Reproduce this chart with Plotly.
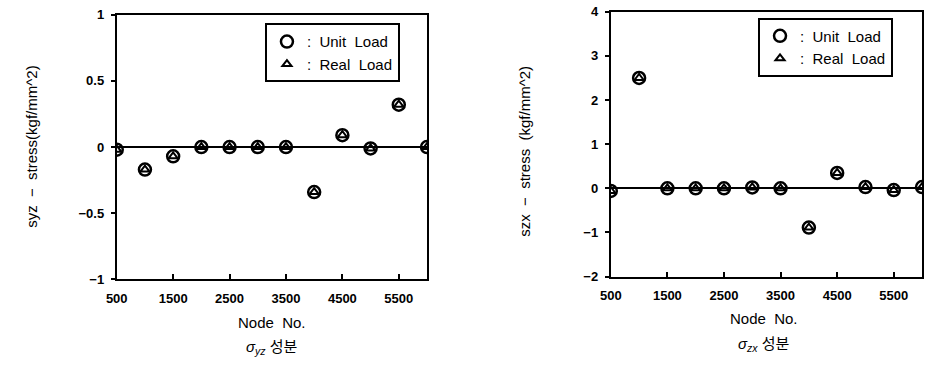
import plotly.graph_objects as go

nodes = [500, 1000, 1500, 2000, 2500, 3000, 3500, 4000, 4500, 5000, 5500, 6000]
syz_unit = [-0.02, -0.17, -0.07, 0.0, 0.0, 0.0, 0.0, -0.34, 0.09, -0.01, 0.32, 0.0]
syz_real = [-0.02, -0.17, -0.07, 0.0, 0.0, 0.0, 0.0, -0.34, 0.09, -0.01, 0.32, 0.0]
szx_unit = [-0.06, 2.5, 0.0, 0.0, 0.0, 0.02, 0.0, -0.89, 0.35, 0.03, -0.04, 0.03]
szx_real = [-0.06, 2.5, 0.0, 0.0, 0.0, 0.02, 0.0, -0.89, 0.35, 0.03, -0.04, 0.03]
x_ticks = [500, 1500, 2500, 3500, 4500, 5500]
y1_ticks = [-1, -0.5, 0, 0.5, 1]
y1_labels = ["−1", "−0.5", "0", "0.5", "1"]
y2_ticks = [-2, -1, 0, 1, 2, 3, 4]
y2_labels = ["−2", "−1", "0", "1", "2", "3", "4"]

FONT = "Liberation Sans"
fig = go.Figure()

def add_pair(unit, real, xa, ya, legend):
    fig.add_trace(go.Scatter(x=nodes, y=unit, mode="markers", xaxis=xa, yaxis=ya,
                             name=":  Unit  Load", legend=legend,
                             marker=dict(symbol="circle-open", size=12, color="black",
                                         line=dict(width=2.5, color="black"))))
    fig.add_trace(go.Scatter(x=nodes, y=real, mode="markers", xaxis=xa, yaxis=ya,
                             name=":  Real  Load", legend=legend,
                             marker=dict(symbol="triangle-up-open", size=8, color="black",
                                         line=dict(width=2, color="black"))))

add_pair(syz_unit, syz_real, "x", "y", "legend")
add_pair(szx_unit, szx_real, "x2", "y2", "legend2")

tickfont = dict(family=FONT, size=13, color="black", weight="bold")
xaxis_common = dict(showline=True, linecolor="black", linewidth=2, mirror=True,
                    showgrid=False, ticks="inside", ticklen=5, tickcolor="black",
                    tickwidth=1.5, ticklabelstandoff=6, tickfont=tickfont)
yaxis_common = dict(showline=True, linecolor="black", linewidth=2, mirror=True,
                    showgrid=False, ticks="outside", ticklen=4, tickcolor="black",
                    tickwidth=1.5, ticklabelstandoff=4, tickfont=tickfont)

legend_common = dict(xanchor="left", yanchor="top", bordercolor="black", borderwidth=2,
                     bgcolor="white", font=dict(family=FONT, size=15, color="black"),
                     tracegroupgap=0, itemwidth=30)

fig.update_layout(
    width=926, height=370, margin=dict(l=0, r=0, t=0, b=0),
    paper_bgcolor="white", plot_bgcolor="white",
    font=dict(family=FONT, color="black"),
    xaxis=dict(domain=[107/926, 421/926], range=[500, 6000], tickvals=x_ticks,
               zeroline=False, anchor="y", **xaxis_common),
    yaxis=dict(domain=[1-284/370, 1-8/370], range=[-1, 1], tickvals=y1_ticks,
               ticktext=y1_labels, zeroline=True, zerolinecolor="black",
               zerolinewidth=1.5, anchor="x", **yaxis_common),
    xaxis2=dict(domain=[607/926, 922/926], range=[500, 6000], tickvals=x_ticks,
                zeroline=False, anchor="y2", **xaxis_common),
    yaxis2=dict(domain=[1-281/370, 1-5/370], range=[-2, 4], tickvals=y2_ticks,
                ticktext=y2_labels, zeroline=True, zerolinecolor="black",
                zerolinewidth=1.5, anchor="x2", **yaxis_common),
    legend=dict(x=257/926, y=1-17/370, **legend_common),
    legend2=dict(x=756/926, y=1-11/370, **legend_common),
)

ann = [
    dict(x=20/926, y=1-146/370, text="syz  −  stress(kgf/mm^2)", textangle=-90),
    dict(x=520/926, y=1-150/370, text="szx  −  stress  (kgf/mm^2)", textangle=-90),
    dict(x=264/926, y=1-329/370, text="Node  No."),
    dict(x=762/926, y=1-325/370, text="Node  No."),
    dict(x=264/926, y=1-355/370, text="<i>σ<sub>yz</sub></i> 성분"),
    dict(x=762/926, y=1-352/370, text="<i>σ<sub>zx</sub></i> 성분"),
]
for a in ann:
    fig.add_annotation(xref="paper", yref="paper", showarrow=False,
                       xanchor="center", yanchor="middle",
                       font=dict(family=FONT + ", Noto Sans CJK KR", size=15, color="black"),
                       **a)

fig.write_html("out.html")
